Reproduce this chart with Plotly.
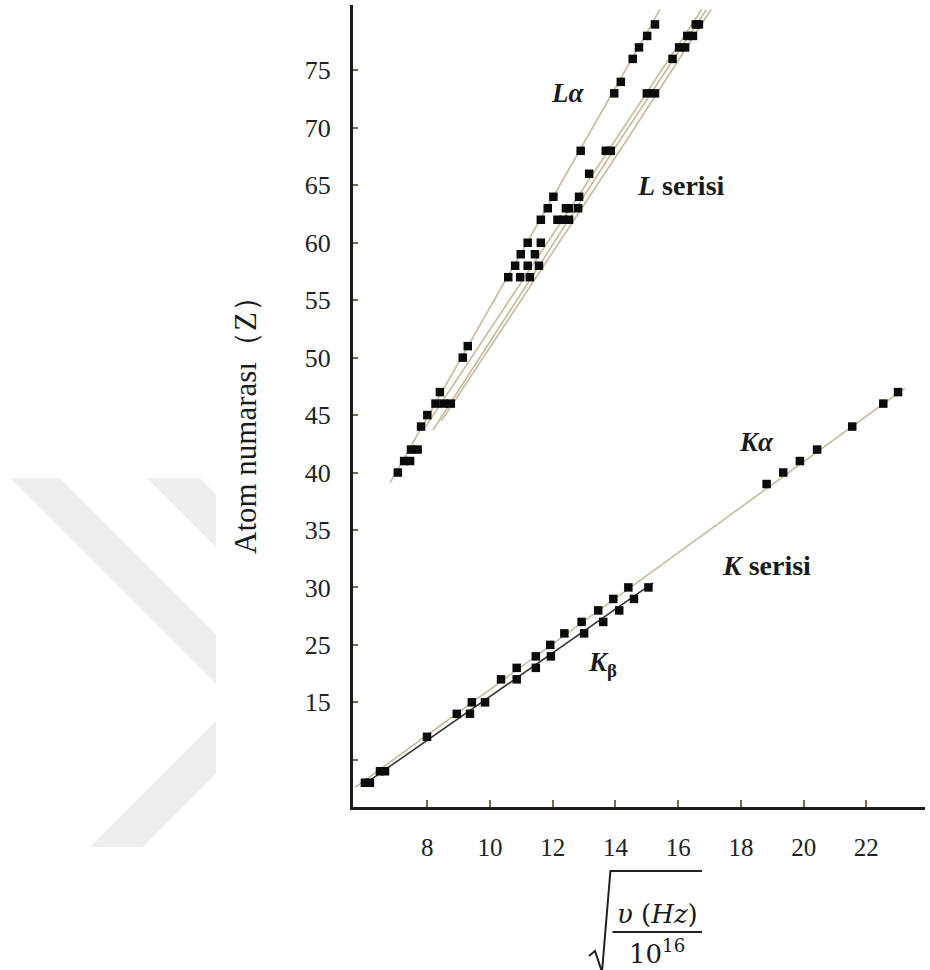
import plotly.graph_objects as go

# ---------------- data ----------------
# L series: L-alpha points (atomic number Z vs sqrt(nu/1e16))
L_alpha_Z = [79, 78, 77, 76, 74, 73, 68, 64, 63, 62, 60, 59, 58, 57, 51, 50, 47, 46, 45, 44, 42, 41, 40]
L_alpha_x = [15.26, 15.01, 14.75, 14.55, 14.17, 13.96, 12.89, 12.02, 11.84, 11.62, 11.20, 10.98, 10.80,
             10.58, 9.29, 9.13, 8.40, 8.26, 8.00, 7.80, 7.48, 7.26, 7.06]
# other L lines (beta / gamma)
L_other_Z = [79, 79, 78, 78, 77, 77, 76, 73, 73, 68, 68, 66, 64, 63, 63, 63, 62, 62, 62, 60, 59, 58, 58,
             57, 57, 46, 46, 42, 41]
L_other_x = [16.56, 16.66, 16.29, 16.47, 16.03, 16.22, 15.82, 15.00, 15.26, 13.69, 13.85, 13.16, 12.84,
             12.42, 12.52, 12.81, 12.15, 12.34, 12.52, 11.62, 11.43, 11.20, 11.56, 10.96, 11.27, 8.52,
             8.75, 7.69, 7.45]
# K series
K_alpha_Z = [13, 14, 17, 19, 20, 22, 23, 24, 25, 26, 27, 28, 29, 30, 39, 40, 41, 42, 44, 46, 47]
K_alpha_x = [6.01, 6.49, 7.99, 8.94, 9.42, 10.35, 10.85, 11.46, 11.92, 12.37, 12.92, 13.45, 13.93, 14.41,
             18.82, 19.35, 19.88, 20.43, 21.55, 22.54, 23.01]
K_beta_Z = [13, 14, 19, 20, 22, 23, 24, 26, 27, 28, 29, 30]
K_beta_x = [6.17, 6.65, 9.36, 9.84, 10.85, 11.46, 11.94, 13.00, 13.61, 14.12, 14.59, 15.05]

# guide lines drawn in the figure (Z, x pairs)
La_line_Z, La_line_x = [39.1, 80.3], [6.81, 15.42]
Lb_line_Z, Lb_line_x = [44.0, 68.9, 80.3], [7.95, 13.98, 16.75]
Lc_line_Z, Lc_line_x = [43.7, 68.9, 80.3], [8.18, 14.14, 16.90]
Ld_line_Z, Ld_line_x = [44.5, 68.9, 80.3], [8.45, 14.35, 17.05]
Ka_line_Z, Ka_line_x = [12.6, 47.35], [5.70, 23.23]
Kb_line_Z, Kb_line_x = [12.8, 30.4], [5.95, 15.20]

x_ticks = [8, 10, 12, 14, 16, 18, 20, 22]
y_tickvals = [15, 20, 25, 30, 35, 40, 45, 50, 55, 60, 65, 70, 75]
y_ticktext = ["", "15", "25", "30", "35", "40", "45", "50", "55", "60", "65", "70", "75"]

# ---------------- figure ----------------
W, H = 930, 970
ML, MR, MT, MB = 353, 5, 5, 163


def P(px, py):
    return (px - ML) / (W - ML - MR), (H - MB - py) / (H - MT - MB)


TAN = "#c9b99a"
fig = go.Figure()

for zz, xx, col in [(La_line_Z, La_line_x, TAN), (Lb_line_Z, Lb_line_x, TAN),
                    (Lc_line_Z, Lc_line_x, TAN), (Ld_line_Z, Ld_line_x, TAN),
                    (Ka_line_Z, Ka_line_x, TAN), (Kb_line_Z, Kb_line_x, "#3a3530")]:
    fig.add_trace(go.Scatter(x=xx, y=zz, mode="lines", line=dict(color=col, width=1.6),
                             hoverinfo="skip", showlegend=False))

for zz, xx in [(L_alpha_Z, L_alpha_x), (L_other_Z, L_other_x), (K_alpha_Z, K_alpha_x),
               (K_beta_Z, K_beta_x)]:
    fig.add_trace(go.Scatter(x=xx, y=zz, mode="markers",
                             marker=dict(symbol="square", size=8.5, color="#0b0b0b", line=dict(width=0)),
                             showlegend=False))

# watermark chevron (light grey, behind)
shapes = []
for poly in [[(10, 478), (60, 478), (216, 634), (216, 684)],
             [(147, 478), (200, 478), (216, 494), (216, 547)],
             [(90, 847), (143, 847), (216, 774), (216, 721)]]:
    pts = [P(a, b) for a, b in poly]
    path = "M " + " L ".join(f"{a:.4f},{b:.4f}" for a, b in pts) + " Z"
    shapes.append(dict(type="path", path=path, xref="paper", yref="paper",
                       fillcolor="#eeeeee", line=dict(width=0), layer="below"))

# radical sign and fraction bar for the x title
rad = [P(589, 956), P(595, 951), P(602, 972), P(610.4, 871), P(702, 871)]
shapes.append(dict(type="path", xref="paper", yref="paper",
                   path="M " + " L ".join(f"{a:.4f},{b:.4f}" for a, b in rad),
                   line=dict(color="#222", width=2)))
fb0, fb1 = P(612.5, 932), P(702, 932)
shapes.append(dict(type="line", xref="paper", yref="paper", x0=fb0[0], y0=fb0[1], x1=fb1[0], y1=fb1[1],
                   line=dict(color="#222", width=2)))

annotations = []


def ann(text, px, py, size, xanchor="center", family="Liberation Serif", angle=0):
    x, y = P(px, py)
    annotations.append(dict(text=text, x=x, y=y, xref="paper", yref="paper", showarrow=False,
                            xanchor=xanchor, yanchor="middle", textangle=angle,
                            font=dict(family=family, size=size, color="#1a1a1a")))


ann("<b><i>Lα</i></b>", 567, 93, 27)
ann("<b><i>L</i> serisi</b>", 635, 185, 28, xanchor="left")
ann("<b><i>Kα</i></b>", 756, 442, 27)
ann("<b><i>K</i> serisi</b>", 720, 565, 28, xanchor="left")
ann("<b><i>K</i><sub>β</sub></b>", 602, 664, 27)
ann("Atom numarası（Z）", 246, 418, 31, angle=-90)
ann("<i>υ</i> (<i>Hz</i>)", 657, 914, 26, family="DejaVu Serif")
ann("10<sup>16</sup>", 657, 952, 26, family="DejaVu Serif")

fig.update_layout(
    width=W, height=H, autosize=False,
    margin=dict(l=ML, r=MR, t=MT, b=MB, pad=0),
    paper_bgcolor="white", plot_bgcolor="white",
    shapes=shapes, annotations=annotations, showlegend=False,
    xaxis=dict(range=[5.63, 23.87], tickvals=x_ticks, ticks="inside", ticklen=7, tickwidth=1.5,
               tickcolor="#7a6a50", showline=True, linecolor="#1b1b1b", linewidth=3,
               showgrid=False, zeroline=False, ticklabelstandoff=16,
               tickfont=dict(family="Liberation Serif", size=25, color="#222")),
    yaxis=dict(range=[10.89, 80.69], tickvals=y_tickvals, ticktext=y_ticktext, ticks="inside",
               ticklen=5, tickwidth=1.5, tickcolor="#7a6a50", showline=True, linecolor="#1b1b1b",
               linewidth=3, showgrid=False, zeroline=False, ticklabelstandoff=14,
               tickfont=dict(family="Liberation Serif", size=26, color="#222")),
)

fig.write_html("out.html", config={"displayModeBar": False},
               post_script="document.body.style.margin='0';document.body.style.overflow='hidden';")
